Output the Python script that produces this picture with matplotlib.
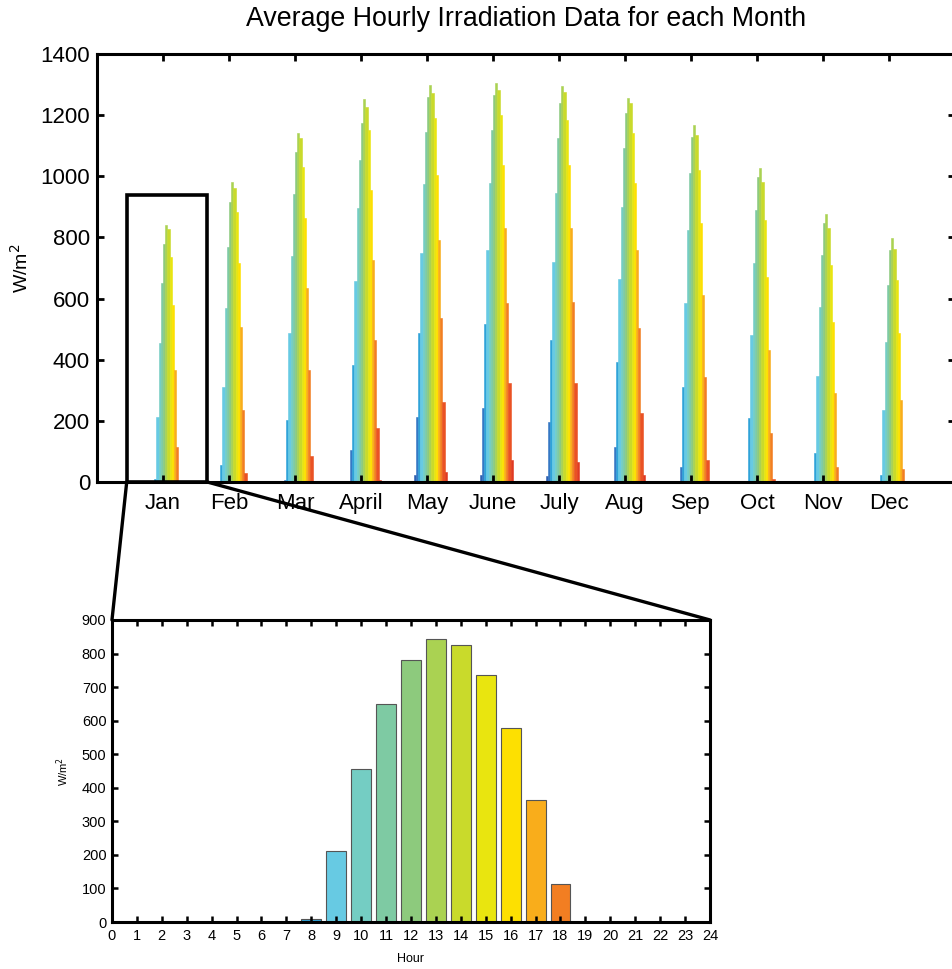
import matplotlib
matplotlib.use("Agg")
import matplotlib.pyplot as plt
from matplotlib.patches import Rectangle, ConnectionPatch
import numpy as np

plt.rcParams["font.family"] = ["Liberation Sans", "DejaVu Sans"]

# ---- data -------------------------------------------------------------
months = ["Jan", "Feb", "Mar", "April", "May", "June",
          "July", "Aug", "Sep", "Oct", "Nov", "Dec"]
hours = list(range(24))

# average irradiation (W/m2) per hour 0..23
jan = [0, 0, 0, 0, 0, 0, 0, 0, 10, 212, 455, 650, 780, 842, 826, 737, 578, 365, 113, 0, 0, 0, 0, 0]
feb = [0, 0, 0, 0, 0, 0, 0, 0, 55, 312, 568, 768, 917, 982, 960, 884, 715, 508, 235, 30, 0, 0, 0, 0]
mar = [0, 0, 0, 0, 0, 0, 0, 8, 203, 488, 740, 942, 1080, 1141, 1124, 1029, 862, 636, 366, 86, 0, 0, 0, 0]
apr = [0, 0, 0, 0, 0, 0, 0, 105, 383, 657, 895, 1053, 1173, 1252, 1225, 1151, 955, 726, 464, 177, 8, 0, 0, 0]
may = [0, 0, 0, 0, 0, 0, 23, 214, 488, 750, 974, 1146, 1258, 1299, 1271, 1190, 1004, 792, 535, 263, 34, 0, 0, 0]
jun = [0, 0, 0, 0, 0, 0, 23, 243, 516, 759, 977, 1151, 1266, 1306, 1282, 1200, 1037, 830, 585, 323, 72, 0, 0, 0]
jul = [0, 0, 0, 0, 0, 0, 20, 197, 464, 721, 944, 1124, 1241, 1295, 1277, 1184, 1037, 830, 588, 323, 66, 0, 0, 0]
aug = [0, 0, 0, 0, 0, 0, 0, 116, 394, 663, 901, 1091, 1206, 1255, 1239, 1141, 977, 759, 503, 225, 23, 0, 0, 0]
sep = [0, 0, 0, 0, 0, 0, 0, 50, 312, 585, 824, 1010, 1130, 1168, 1135, 1021, 846, 612, 344, 72, 0, 0, 0, 0]
oct_ = [0, 0, 0, 0, 0, 0, 0, 0, 208, 481, 715, 890, 999, 1026, 982, 857, 672, 432, 159, 10, 0, 0, 0, 0]
nov = [0, 0, 0, 0, 0, 0, 0, 0, 94, 347, 573, 742, 846, 877, 830, 710, 524, 292, 50, 0, 0, 0, 0, 0]
dec = [0, 0, 0, 0, 0, 0, 0, 0, 23, 236, 459, 644, 759, 797, 761, 661, 486, 268, 42, 0, 0, 0, 0, 0]

monthly = np.array([jan, feb, mar, apr, may, jun, jul, aug, sep, oct_, nov, dec])

hour_colors = ["#1f2a6e", "#1f2e78", "#203582", "#223d8c", "#244796", "#2852a2",
               "#2f5fb0", "#3578c4", "#2fa3d8", "#67cae3", "#74cdc3", "#7ecaa3",
               "#8dca7d", "#aad252", "#c9da2b", "#e9e50f", "#fde001", "#f9ad1b",
               "#f27e22", "#ea5224", "#e03a22", "#c42a1e", "#a0201a", "#7a1814"]

# ---- figure -----------------------------------------------------------
fig = plt.figure(figsize=(9.53, 9.69), dpi=100)
ax = fig.add_axes([0.1018, 0.5026, 0.9003, 0.4417])
ax2 = fig.add_axes([0.1175, 0.0485, 0.6275, 0.3117])

# top: grouped bars, 24 hours per month
x = np.arange(1, len(months) + 1)
group_w = 0.8
bw = group_w / len(hours)
for h in hours:
    vals = monthly[:, h]
    keep = vals > 0
    ax.bar(x[keep] + (h - (len(hours) - 1) / 2) * bw, vals[keep], width=bw,
           color=hour_colors[h], edgecolor=hour_colors[h], linewidth=0.4)

ax.set_xlim(0, 13)
ax.set_ylim(0, 1400)
ax.set_yticks(np.arange(0, 1401, 200))
ax.set_xticks(x)
ax.set_xticklabels(months)
ax.tick_params(axis="both", which="both", direction="in", length=5, width=2,
               labelsize=16, top=True, right=True)
ax.tick_params(axis="x", pad=8)
ax.tick_params(axis="y", pad=5)
for sp in ax.spines.values():
    sp.set_linewidth(2.2)
ax.set_ylabel("W/m$^2$", fontsize=14)
ax.yaxis.set_label_coords(-0.076, 0.5)
ax.set_title("Average Hourly Irradiation Data for each Month", fontsize=19.3, pad=20)

# highlight box around January
ax.add_patch(Rectangle((0.45, 0), 1.22, 940, fill=False, edgecolor="black",
                       linewidth=2.6, clip_on=False, zorder=5))

# bottom: January hourly detail
ax2.bar(hours, jan, width=0.8, color=hour_colors, edgecolor="#555555", linewidth=0.8)
ax2.set_xlim(0, 24)
ax2.set_ylim(0, 900)
ax2.set_xticks(range(0, 25))
ax2.set_yticks(np.arange(0, 901, 100))
ax2.tick_params(axis="both", which="both", direction="in", length=4, width=1.8,
                labelsize=10.5, top=True, right=True)
ax2.tick_params(axis="x", pad=5)
ax2.tick_params(axis="y", pad=4)
for sp in ax2.spines.values():
    sp.set_linewidth(2.2)
ax2.set_xlabel("Hour", fontsize=9, labelpad=7)
ax2.set_ylabel("W/m$^2$", fontsize=8, labelpad=8)

# zoom connector lines
for xa, xb in [(0.45, 0), (1.67, 1)]:
    con = ConnectionPatch(xyA=(xa, 0), coordsA=ax.transData,
                          xyB=(xb, 1), coordsB=ax2.transAxes,
                          color="black", linewidth=2.4)
    fig.add_artist(con)

fig.savefig("out.png", dpi=100)
